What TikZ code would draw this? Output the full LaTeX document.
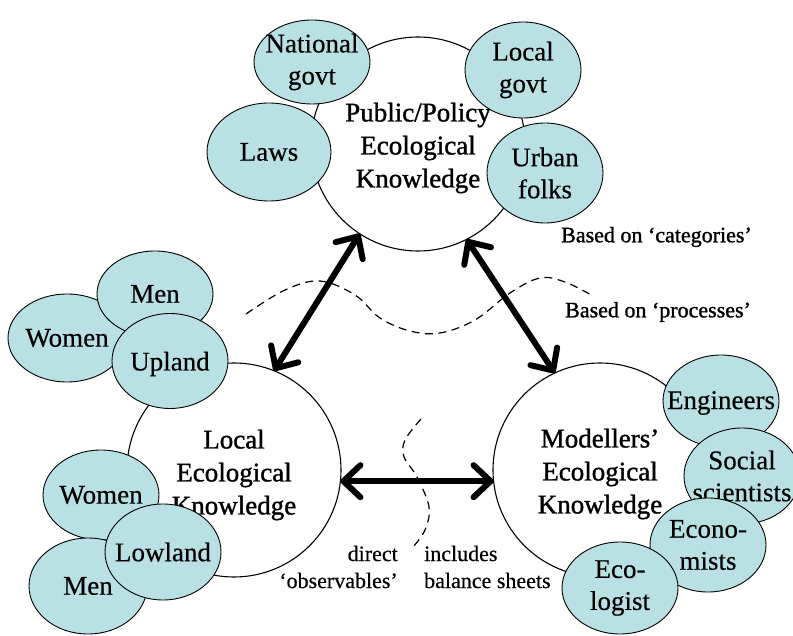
\documentclass[tikz,border=0pt]{standalone}
\usepackage{fontspec}
\setmainfont{Liberation Serif}
\newfontfamily\heavyfont[FakeBold=1.2]{Liberation Serif}
\newfontfamily\midfont[FakeBold=0.4]{Liberation Serif}
\usetikzlibrary{shapes.geometric,arrows.meta}
\definecolor{pale}{RGB}{185,224,227}
\tikzset{
  big/.style={circle, draw, line width=1.1pt, minimum size=214pt, inner sep=0pt, outer sep=0pt},
  bigtxt/.style={align=center, inner sep=0pt, yshift=-4pt, font=\heavyfont\fontsize{27}{33}\selectfont},
  grp/.style={ellipse, draw, fill=pale, line width=0.9pt, inner sep=0pt, outer sep=0pt},
  lbl/.style={align=center, inner sep=0pt, font=\midfont\fontsize{27}{32}\selectfont},
  note/.style={inner sep=0pt, font=\midfont\fontsize{22}{27}\selectfont},
  heavynote/.style={inner sep=0pt, font=\heavyfont\fontsize{22}{27}\selectfont},
  link/.style={line width=6pt, line cap=round,
    {Straight Barb[length=17pt,width=32pt,round]}-{Straight Barb[length=17pt,width=32pt,round]}},
  divide/.style={line width=1.2pt, dash pattern=on 8pt off 5.5pt}
}
\begin{document}
\begin{tikzpicture}[x=1pt,y=-1pt]
\useasboundingbox (0,0) rectangle (793,636);

% main circles
\node[big, label={[bigtxt]center:Public/Policy\\Ecological\\Knowledge}] (pub) at (418,144) {};
\node[big, label={[bigtxt, yshift=-1pt]center:Local\\Ecological\\Knowledge}] (loc) at (234,470) {};
\node[big, label={[bigtxt]center:Modellers’\\Ecological\\Knowledge}] (mod) at (600,470) {};

% public/policy group
\node[grp, minimum width=116pt, minimum height=84pt, label={[lbl]center:National\\govt}] (natg) at (312,62) {};
\node[grp, minimum width=124pt, minimum height=98pt, label={[lbl]center:Laws}] (laws) at (269,152) {};
\node[grp, minimum width=116pt, minimum height=96pt, label={[lbl]center:Local\\govt}] (locg) at (523,70) {};
\node[grp, minimum width=116pt, minimum height=100pt, label={[lbl]center:Urban\\folks}] (urb) at (545,173) {};

% local group
\node[grp, minimum width=118pt, minimum height=88pt, label={[lbl]center:Women}] (wup) at (67,338) {};
\node[grp, minimum width=116pt, minimum height=86pt, label={[lbl]center:Men}] (mup) at (155,294) {};
\node[grp, minimum width=116pt, minimum height=95pt, label={[lbl, yshift=-3pt]center:Upland}] (upl) at (170,361) {};
\node[grp, minimum width=116pt, minimum height=90pt, label={[lbl]center:Women}] (wlo) at (101,495) {};
\node[grp, minimum width=118pt, minimum height=96pt, label={[lbl]center:Men}] (mlo) at (88,586) {};
\node[grp, minimum width=116pt, minimum height=96pt, label={[lbl]center:Lowland}] (low) at (163,552) {};

% modellers group
\node[grp, minimum width=116pt, minimum height=92pt, label={[lbl, yshift=-2pt]center:Engineers}] (eng) at (721,401) {};
\node[grp, minimum width=116pt, minimum height=96pt, label={[lbl]center:Social\\scientists}] (soc) at (742,476) {};
\node[grp, minimum width=116pt, minimum height=94pt, label={[lbl]center:Econo-\\mists}] (eco) at (708,545) {};
\node[grp, minimum width=116pt, minimum height=92pt, label={[lbl]center:Eco-\\logist}] (ecl) at (620,588) {};

% arrows
\draw[link] (pub.237) -- (loc.68);
\draw[link] (pub.297.5) -- (mod.115.4);
\draw[link] (loc.-6.5) -- (mod.186.4);

% dashed dividers
\draw[divide] plot[smooth, tension=0.6] coordinates {(246,314) (285,290) (320,281) (355,295) (380,318) (410,331) (440,333) (475,320) (510,293) (540,278) (565,282) (593,296)};
\draw[divide] plot[smooth, tension=0.6] coordinates {(421,419) (405,440) (404,457) (417,477) (429,507) (425,530) (413,547)};

% notes
\node[heavynote, anchor=west] (cat) at (561,237) {Based on ‘categories’};
\node[heavynote, anchor=west] (proc) at (565,312) {Based on ‘processes’};
\node[note, anchor=east, align=right] (obs) at (398,567) {direct\\‘observables’};
\node[note, anchor=west, align=left] (bal) at (424,567) {includes\\balance sheets};
\end{tikzpicture}
\end{document}
